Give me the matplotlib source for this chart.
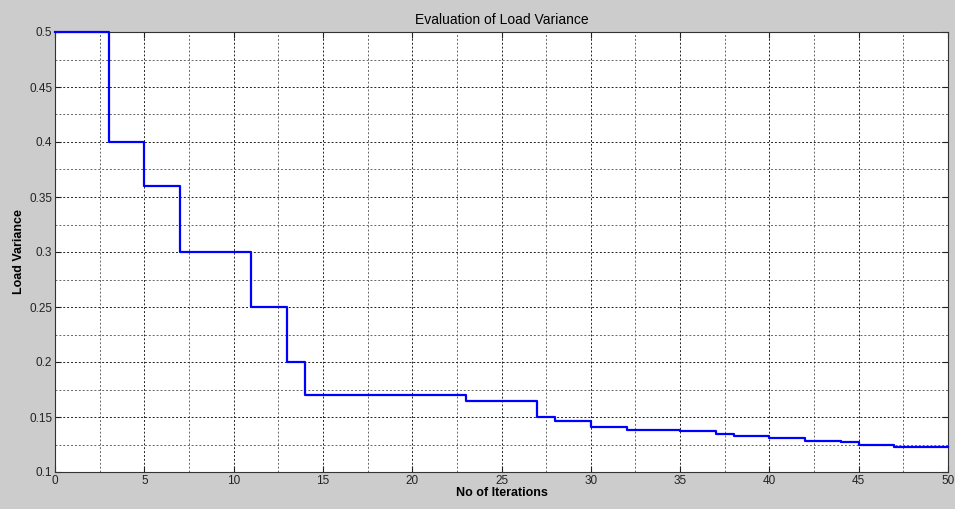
import matplotlib.pyplot as plt
from matplotlib.ticker import MultipleLocator

# iteration where the load variance changes, and the value held from there on
iterations = [0, 3, 5, 7, 11, 13, 14, 23, 27, 28, 30, 32, 35, 37, 38, 40, 42, 44, 45, 47, 50]
variance = [0.5, 0.4, 0.36, 0.3, 0.25, 0.2, 0.17, 0.165, 0.15, 0.146, 0.141, 0.1385, 0.137,
            0.135, 0.1325, 0.1305, 0.1285, 0.127, 0.1245, 0.123, 0.123]

title = "Evaluation of Load Variance"
xlabel = "No of Iterations"
ylabel = "Load Variance"


def main():
    plt.rcParams['font.family'] = ['Liberation Sans', 'DejaVu Sans']

    fig = plt.figure(figsize=(9.55, 5.09), dpi=100)
    fig.patch.set_facecolor('#cccccc')
    ax = fig.add_axes([55 / 955, 1 - 472 / 509, (948 - 55) / 955, (472 - 32) / 509])
    ax.set_facecolor('white')

    ax.step(iterations, variance, where='post', color='#0000ff', linewidth=1.6,
            clip_on=False, zorder=5)

    ax.set_xlim(0, 50)
    ax.set_ylim(0.1, 0.5)
    ax.xaxis.set_major_locator(MultipleLocator(5))
    ax.xaxis.set_minor_locator(MultipleLocator(2.5))
    ax.yaxis.set_major_locator(MultipleLocator(0.05))
    ax.yaxis.set_minor_locator(MultipleLocator(0.025))
    ax.set_yticks([0.1, 0.15, 0.2, 0.25, 0.3, 0.35, 0.4, 0.45, 0.5])
    ax.set_yticklabels(['0.1', '0.15', '0.2', '0.25', '0.3', '0.35', '0.4', '0.45', '0.5'])

    ax.grid(True, which='major', color='#222222', linestyle=(0, (2, 2)), linewidth=0.7)
    ax.grid(True, which='minor', color='#666666', linestyle=(0, (2, 2)), linewidth=0.7)
    ax.set_axisbelow(True)

    ax.tick_params(which='major', direction='in', length=4, width=0.8, top=True, right=True,
                   labelsize=8.5, colors='#222222', pad=2)
    ax.tick_params(which='minor', length=0)
    for s in ax.spines.values():
        s.set_color('#333333')
        s.set_linewidth(0.8)

    ax.set_title(title, fontsize=10, pad=6)
    ax.set_xlabel(xlabel, fontsize=9, fontweight='bold', labelpad=0)
    ax.set_ylabel(ylabel, fontsize=9, fontweight='bold', labelpad=3)

    fig.savefig('out.png', dpi=100, facecolor=fig.get_facecolor())


if __name__ == "__main__":
    main()
